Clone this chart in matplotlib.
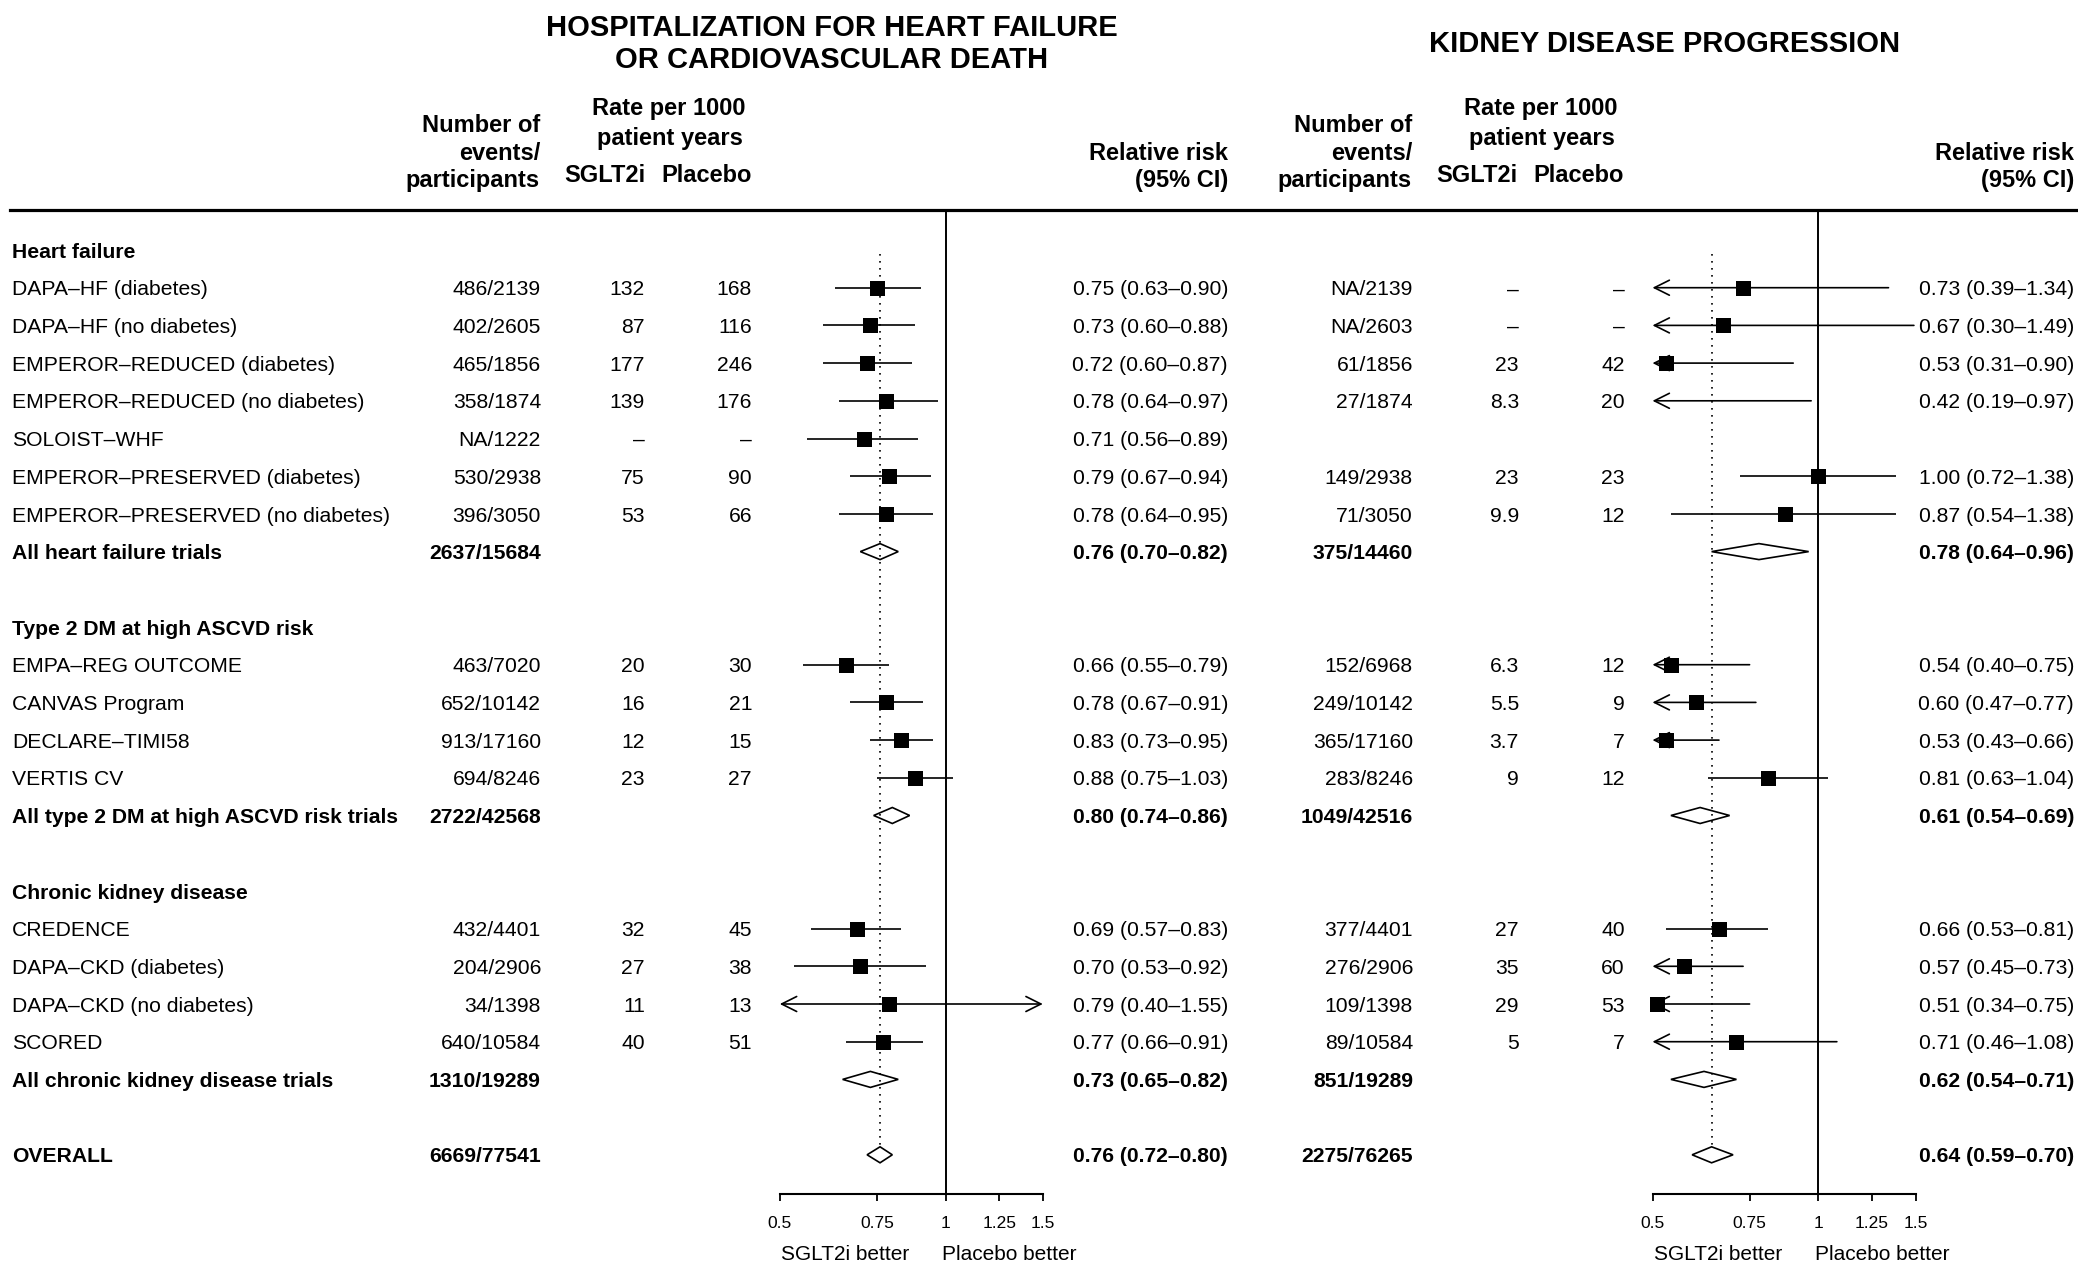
import numpy as np
import matplotlib
matplotlib.use('Agg')
import matplotlib.pyplot as plt
from matplotlib.patches import Polygon, ArrowStyle

plt.rcParams['font.family'] = ['Liberation Sans', 'DejaVu Sans']

nan = np.nan
N = None

# ---------------- data ----------------
labels = ["Heart failure",
          "DAPA–HF (diabetes)", "DAPA–HF (no diabetes)", "EMPEROR–REDUCED (diabetes)",
          "EMPEROR–REDUCED (no diabetes)", "SOLOIST–WHF", "EMPEROR–PRESERVED (diabetes)",
          "EMPEROR–PRESERVED (no diabetes)",
          "All heart failure trials", "",
          "Type 2 DM at high ASCVD risk",
          "EMPA–REG OUTCOME", "CANVAS Program", "DECLARE–TIMI58", "VERTIS CV",
          "All type 2 DM at high ASCVD risk trials", "",
          "Chronic kidney disease",
          "CREDENCE", "DAPA–CKD (diabetes)", "DAPA–CKD (no diabetes)", "SCORED",
          "All chronic kidney disease trials", "",
          "OVERALL"]
kinds = (['group'] + ['study'] * 7 + ['summary', 'blank', 'group'] + ['study'] * 4 +
         ['summary', 'blank', 'group'] + ['study'] * 4 + ['summary', 'blank', 'summary'])

# Hospitalization for heart failure or CV death
hf_events = [N, "486/2139", "402/2605", "465/1856", "358/1874", "NA/1222", "530/2938", "396/3050",
             "2637/15684", N, N, "463/7020", "652/10142", "913/17160", "694/8246", "2722/42568",
             N, N, "432/4401", "204/2906", "34/1398", "640/10584", "1310/19289", N, "6669/77541"]
hf_sglt2 = [N, "132", "87", "177", "139", "–", "75", "53", N, N, N, "20", "16", "12", "23", N,
            N, N, "32", "27", "11", "40", N, N, N]
hf_placebo = [N, "168", "116", "246", "176", "–", "90", "66", N, N, N, "30", "21", "15", "27", N,
              N, N, "45", "38", "13", "51", N, N, N]
hf_rr = [nan, 0.75, 0.73, 0.72, 0.78, 0.71, 0.79, 0.78, 0.76, nan, nan, 0.66, 0.78, 0.83, 0.88, 0.80,
         nan, nan, 0.69, 0.70, 0.79, 0.77, 0.73, nan, 0.76]
hf_lo = [nan, 0.63, 0.60, 0.60, 0.64, 0.56, 0.67, 0.64, 0.70, nan, nan, 0.55, 0.67, 0.73, 0.75, 0.74,
         nan, nan, 0.57, 0.53, 0.40, 0.66, 0.65, nan, 0.72]
hf_hi = [nan, 0.90, 0.88, 0.87, 0.97, 0.89, 0.94, 0.95, 0.82, nan, nan, 0.79, 0.91, 0.95, 1.03, 0.86,
         nan, nan, 0.83, 0.92, 1.55, 0.91, 0.82, nan, 0.80]

# Kidney disease progression
kd_events = [N, "NA/2139", "NA/2603", "61/1856", "27/1874", N, "149/2938", "71/3050", "375/14460",
             N, N, "152/6968", "249/10142", "365/17160", "283/8246", "1049/42516", N, N,
             "377/4401", "276/2906", "109/1398", "89/10584", "851/19289", N, "2275/76265"]
kd_sglt2 = [N, "–", "–", "23", "8.3", N, "23", "9.9", N, N, N, "6.3", "5.5", "3.7", "9", N,
            N, N, "27", "35", "29", "5", N, N, N]
kd_placebo = [N, "–", "–", "42", "20", N, "23", "12", N, N, N, "12", "9", "7", "12", N,
              N, N, "40", "60", "53", "7", N, N, N]
kd_rr = [nan, 0.73, 0.67, 0.53, 0.42, nan, 1.00, 0.87, 0.78, nan, nan, 0.54, 0.60, 0.53, 0.81, 0.61,
         nan, nan, 0.66, 0.57, 0.51, 0.71, 0.62, nan, 0.64]
kd_lo = [nan, 0.39, 0.30, 0.31, 0.19, nan, 0.72, 0.54, 0.64, nan, nan, 0.40, 0.47, 0.43, 0.63, 0.54,
         nan, nan, 0.53, 0.45, 0.34, 0.46, 0.54, nan, 0.59]
kd_hi = [nan, 1.34, 1.49, 0.90, 0.97, nan, 1.38, 1.38, 0.96, nan, nan, 0.75, 0.77, 0.66, 1.04, 0.69,
         nan, nan, 0.81, 0.73, 0.75, 1.08, 0.71, nan, 0.70]

ticks = [0.5, 0.75, 1, 1.25, 1.5]
tick_labels = ["0.5", "0.75", "1", "1.25", "1.5"]

# ---------------- layout ----------------
W, H = 2078, 1265
fig = plt.figure(figsize=(W / 100, H / 100), dpi=100)
bg = fig.add_axes([0, 0, 1, 1])
bg.set_xlim(0, W)
bg.set_ylim(H, 0)
bg.axis('off')

Y0, DY = 250.0, 37.7          # pixel y of row 0 and row spacing
TOP, BOT = 210.0, 1194.0       # top rule and axis line (pixels)
BODY, HEAD, TITLE, TICK, NOTE = 15.2, 17, 21, 12.5, 15


def put(x, yc, s, size=BODY, bold=False, ha='left'):
    if s is None or s == "":
        return
    bg.text(x, yc + 0.36 * size * 100 / 72, s, fontsize=size,
            fontweight='bold' if bold else 'normal', ha=ha, va='baseline', color='black')


def row_y(k):
    return Y0 + DY * k


# top rule
bg.axhline(TOP, xmin=10 / W, xmax=1, color='black', lw=2.3)

# titles
put(832, 25, "HOSPITALIZATION FOR HEART FAILURE", TITLE, True, 'center')
put(832, 58, "OR CARDIOVASCULAR DEATH", TITLE, True, 'center')
put(1665, 41, "KIDNEY DISEASE PROGRESSION", TITLE, True, 'center')

# column headers
for off in (0, 872):
    put(540 + off, 123, "Number of", HEAD, True, 'right')
    put(540 + off, 151, "events/", HEAD, True, 'right')
    put(540 + off, 179, "participants", HEAD, True, 'right')
    put(669 + off, 107, "Rate per 1000", HEAD, True, 'center')
    put(670 + off, 136, "patient years", HEAD, True, 'center')
    put(645 + off, 174, "SGLT2i", HEAD, True, 'right')
    put(752 + off, 174, "Placebo", HEAD, True, 'right')
put(1228, 151, "Relative risk", HEAD, True, 'right')
put(1228, 179, "(95% CI)", HEAD, True, 'right')
put(2074, 151, "Relative risk", HEAD, True, 'right')
put(2074, 179, "(95% CI)", HEAD, True, 'right')


def rr_text(r, l, h):
    if np.isnan(r):
        return None
    return f"{r:.2f} ({l:.2f}–{h:.2f})"


# table text
for k, (lab, kind) in enumerate(zip(labels, kinds)):
    y = row_y(k)
    b = kind in ('group', 'summary')
    put(12, y, lab, BODY, b, 'left')
    put(541, y, hf_events[k], BODY, b, 'right')
    put(645, y, hf_sglt2[k], BODY, False, 'right')
    put(752, y, hf_placebo[k], BODY, False, 'right')
    put(1228, y, rr_text(hf_rr[k], hf_lo[k], hf_hi[k]), BODY, b, 'right')
    put(1413, y, kd_events[k], BODY, b, 'right')
    put(1519, y, kd_sglt2[k], BODY, False, 'right')
    put(1625, y, kd_placebo[k], BODY, False, 'right')
    put(2074, y, rr_text(kd_rr[k], kd_lo[k], kd_hi[k]), BODY, b, 'right')

k_top = (TOP - Y0) / DY
k_bot = (BOT - Y0) / DY
DH = 8 / DY  # diamond half height in rows


def forest(x0, x1, rr, lo, hi):
    ax = fig.add_axes([x0 / W, (H - BOT) / H, (x1 - x0) / W, (BOT - TOP) / H])
    ax.patch.set_alpha(0)
    ax.set_xscale('log')
    ax.set_xlim(0.5, 1.5)
    ax.set_ylim(k_bot, k_top)
    for s in ('top', 'left', 'right'):
        ax.spines[s].set_visible(False)
    ax.spines['bottom'].set_linewidth(1.5)
    ax.set_yticks([])
    ax.xaxis.set_minor_locator(matplotlib.ticker.NullLocator())
    ax.set_xticks(ticks)
    ax.set_xticklabels(tick_labels, fontsize=TICK)
    ax.tick_params(axis='x', direction='out', length=5, width=1.3, pad=11)

    rr = np.array(rr, float)
    lo = np.array(lo, float)
    hi = np.array(hi, float)
    ks = np.arange(len(rr))

    ax.axvline(1, color='black', lw=1.4, zorder=1)
    ov = rr[-1]
    ax.plot([ov, ov], [0.1, ks[-1] - DH], color='black', lw=1.2,
            ls=(0, (1, 3.2)), zorder=1, clip_on=False)

    astyle = dict(head_length=0.4, head_width=0.2)
    for k in ks:
        if np.isnan(rr[k]):
            continue
        if kinds[k] == 'study':
            l = max(lo[k], 0.5)
            h = min(hi[k], 1.5)
            if lo[k] < 0.5 and hi[k] > 1.5:
                ax.annotate('', xy=(1.5, k), xytext=(0.5, k),
                            arrowprops=dict(arrowstyle=ArrowStyle('<->', **astyle), lw=1.2,
                                            color='black', shrinkA=0, shrinkB=0,
                                            mutation_scale=27), annotation_clip=False)
            elif lo[k] < 0.5:
                ax.annotate('', xy=(0.5, k), xytext=(h, k),
                            arrowprops=dict(arrowstyle=ArrowStyle('->', **astyle), lw=1.2,
                                            color='black', shrinkA=0, shrinkB=0,
                                            mutation_scale=27), annotation_clip=False)
            elif hi[k] > 1.5:
                ax.annotate('', xy=(1.5, k), xytext=(l, k),
                            arrowprops=dict(arrowstyle=ArrowStyle('->', **astyle), lw=1.2,
                                            color='black', shrinkA=0, shrinkB=0,
                                            mutation_scale=27), annotation_clip=False)
            else:
                ax.plot([l, h], [k, k], color='black', lw=1.2, solid_capstyle='butt',
                        clip_on=False, zorder=2)
            if 0.5 <= rr[k] <= 1.5:
                ax.plot([rr[k]], [k], 's', ms=10.8, color='black', mew=0, zorder=3,
                        clip_on=False)
        else:
            poly = Polygon([(lo[k], k), (rr[k], k - DH), (hi[k], k), (rr[k], k + DH)],
                           closed=True, facecolor='none', edgecolor='black', lw=1.2,
                           zorder=3, clip_on=False)
            ax.add_patch(poly)
    return ax


axL = forest(779.8, 1042.8, hf_rr, hf_lo, hf_hi)
axR = forest(1652.5, 1915.5, kd_rr, kd_lo, kd_hi)

# better/worse annotations
put(781, 1252, "SGLT2i better", NOTE, False, 'left')
put(942, 1252, "Placebo better", NOTE, False, 'left')
put(1654, 1252, "SGLT2i better", NOTE, False, 'left')
put(1815, 1252, "Placebo better", NOTE, False, 'left')

fig.savefig('out.png', dpi=100)
